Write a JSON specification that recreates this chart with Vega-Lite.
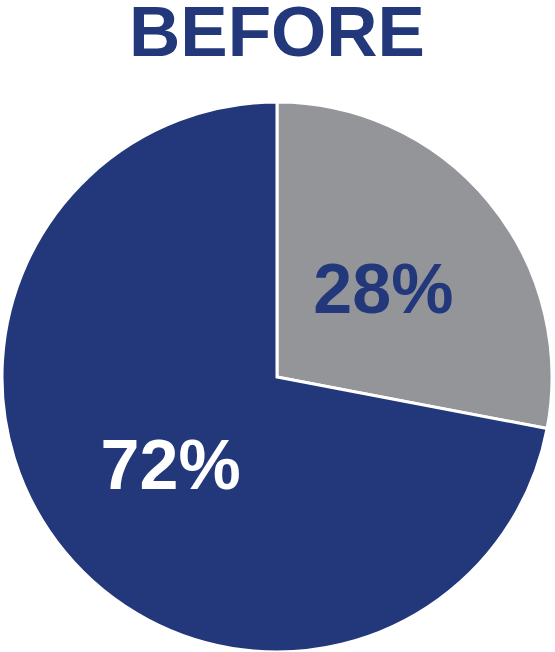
{
  "$schema": "https://vega.github.io/schema/vega-lite/v6.json",
  "width": 550,
  "height": 550,
  "autosize": {"type": "none"},
  "padding": {"left": 2, "top": 102, "right": 3, "bottom": 0},
  "background": "white",
  "title": {
    "text": "BEFORE",
    "font": "Liberation Sans",
    "fontWeight": "bold",
    "fontSize": 71,
    "color": "#22387B",
    "anchor": "middle",
    "offset": 25
  },
  "data": {
    "values": [
      {"category": "Changed", "value": 28, "label": "28%"},
      {"category": "Unchanged", "value": 72, "label": "72%"}
    ]
  },
  "encoding": {
    "theta": {"field": "value", "type": "quantitative", "stack": true},
    "order": {"field": "value", "type": "quantitative", "sort": "ascending"}
  },
  "layer": [
    {
      "mark": {"type": "arc", "outerRadius": 275, "stroke": "white", "strokeWidth": 3},
      "encoding": {
        "color": {
          "field": "category",
          "type": "nominal",
          "scale": {"domain": ["Changed", "Unchanged"], "range": ["#939598", "#22387B"]},
          "legend": null
        }
      }
    },
    {
      "mark": {
        "type": "text",
        "radius": 138,
        "font": "Liberation Sans",
        "fontWeight": "bold",
        "fontSize": 70,
        "align": "center",
        "baseline": "middle",
        "dy": 3
      },
      "encoding": {
        "text": {"field": "label"},
        "color": {
          "field": "label",
          "type": "nominal",
          "scale": {"domain": ["28%", "72%"], "range": ["#22387B", "#FFFFFF"]},
          "legend": null
        }
      }
    }
  ],
  "resolve": {"scale": {"color": "independent"}}
}
